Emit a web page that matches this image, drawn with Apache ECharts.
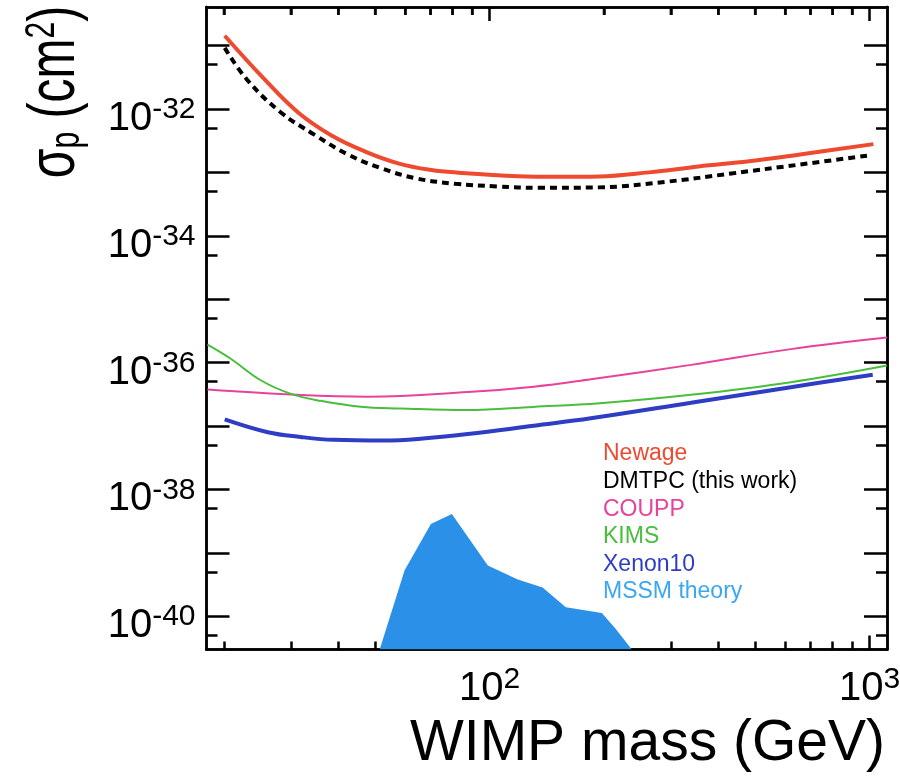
<!DOCTYPE html>
<html><head><meta charset="utf-8">
<script src="https://cdn.jsdelivr.net/npm/echarts@6/dist/echarts.min.js"></script>
<style>html,body{margin:0;padding:0;background:#fff}#c{width:900px;height:780px}</style>
</head><body><div id="c"></div>
<script>
// ---- data (WIMP mass in GeV, cross-section in cm^2) ----
const newageMass  = [20.1, 25.6, 31.3, 38.2, 47.1, 57.5, 70.3, 82.8, 119, 152, 194, 263, 355, 482, 650, 1024];
const newageSigma = [1.43e-31, 2.92e-32, 8.9e-33, 3.9e-33, 2.13e-33, 1.39e-33, 1.09e-33, 9.9e-34, 8.7e-34, 8.5e-34, 8.6e-34, 1.0e-33, 1.24e-33, 1.5e-33, 1.9e-33, 2.79e-33];

const dmtpcMass  = [20.1, 23.0, 28.2, 34.7, 42.5, 51.9, 63.8, 81.4, 105, 135, 194, 291, 433, 650, 1012];
const dmtpcSigma = [9.2e-32, 2.91e-32, 8.9e-33, 3.9e-33, 1.9e-33, 1.16e-33, 8.1e-34, 6.6e-34, 6.0e-34, 5.7e-34, 5.8e-34, 7.1e-34, 9.6e-34, 1.32e-33, 1.87e-33];

const couppMass  = [18.1, 31.9, 47.8, 87.7, 130.8, 184.8, 339, 621, 1112];
const couppSigma = [3.75e-37, 3.08e-37, 2.9e-37, 3.43e-37, 4.17e-37, 5.46e-37, 9.2e-37, 1.63e-36, 2.48e-36];

const kimsMass  = [18.1, 20.8, 25.0, 29.9, 35.9, 45.8, 58.3, 87.5, 130.5, 195, 339, 621, 1112];
const kimsSigma = [1.92e-36, 1.16e-36, 5.26e-37, 3.24e-37, 2.49e-37, 2.01e-37, 1.89e-37, 1.78e-37, 2.0e-37, 2.28e-37, 3.1e-37, 4.9e-37, 8.97e-37];

const xenonMass  = [20.1, 26.1, 31.8, 38.9, 52.7, 65.8, 87.7, 130.8, 184.8, 339, 621, 1020];
const xenonSigma = [1.27e-37, 7.97e-38, 6.71e-38, 6.04e-38, 5.89e-38, 6.28e-38, 7.45e-38, 1.01e-37, 1.32e-37, 2.32e-37, 4.09e-37, 6.44e-37];

const mssmMass  = [51.4, 59.8, 70.1, 79.6, 99.0, 118.7, 138, 158.8, 197.5, 215, 236.9];
const mssmSigma = [2.98e-41, 5.3e-40, 2.84e-39, 4.09e-39, 6.27e-40, 3.78e-40, 2.84e-40, 1.38e-40, 1.12e-40, 6.27e-41, 2.98e-41];

const seriesNames = ['Newage', 'DMTPC (this work)', 'COUPP', 'KIMS', 'Xenon10', 'MSSM theory'];

// axis ticks and labels
const xMajorTicks = [100, 1000];
const xMinorTicks = [20, 30, 40, 50, 60, 70, 80, 90, 200, 300, 400, 500, 600, 700, 800, 900];
const xTickLabels = [100, 1000];
const yMajorTicks = [1e-31, 1e-32, 1e-33, 1e-34, 1e-35, 1e-36, 1e-37, 1e-38, 1e-39, 1e-40];
const yMinorTicks = [5e-32, 5e-33, 5e-34, 5e-35, 5e-36, 5e-37, 5e-38, 5e-39, 5e-40, 5e-41];
const yTickLabels = [1e-32, 1e-34, 1e-36, 1e-38, 1e-40];

const xRange = [18.0, 1112];
const yRange = [2.98e-41, 4.06e-31];

const FONT = '"Liberation Sans", Arial, Helvetica, sans-serif';
const COLORS = {
  newage: '#ee4a30', dmtpc: '#000000', coupp: '#e8429a', kims: '#48be3c', xenon: '#2e3dc4', mssm: '#2b90e8', mssmText: '#3aa7f2'
};

function zip(a, b) { return a.map((v, i) => [v, b[i]]); }
const exp10 = v => Math.log10(v);
const labelRich = {
  b: { fontSize: 40, fontFamily: FONT, color: '#000', lineHeight: 48 },
  s: { fontSize: 30, fontFamily: FONT, color: '#000', lineHeight: 30, verticalAlign: 'top' }
};
const powLabel = e => '{b|10}{s|' + Math.round(e) + '}';
const tickStyle = { color: '#000', width: 2.5 };
const frameLine = { show: true, onZero: false, lineStyle: { color: '#000', width: 2.5 } };
const hiddenLine = { show: false, onZero: false };

// Data are drawn on hidden log axes; the frame, ticks and labels are drawn on
// matching axes whose unit is one decade (log10 of the same range).
const xMinExp = exp10(xRange[0]), xMaxExp = exp10(xRange[1]);
const yMinExp = exp10(yRange[0]), yMaxExp = exp10(yRange[1]);
function xDecoDef(pos, major, withLabel) {
  return {
    type: 'value', min: xMinExp, max: xMaxExp, position: pos, offset: 0,
    axisLine: frameLine,
    axisTick: { show: true, inside: true, length: major ? 14 : 8,
      customValues: (major ? xMajorTicks : xMinorTicks).map(exp10), lineStyle: tickStyle },
    axisLabel: withLabel ? { show: true, customValues: xTickLabels.map(v => Math.round(exp10(v))),
      formatter: powLabel, rich: labelRich, margin: 15 } : { show: false },
    splitLine: { show: false }, minorTick: { show: false }
  };
}
function yDecoDef(pos, major, withLabel) {
  return {
    type: 'value', min: yMinExp, max: yMaxExp, position: pos, offset: 0,
    axisLine: frameLine,
    axisTick: { show: true, inside: true, length: major ? 23 : 11,
      customValues: (major ? yMajorTicks : yMinorTicks).map(exp10), lineStyle: tickStyle },
    axisLabel: withLabel ? { show: true, customValues: yTickLabels.map(v => Math.round(exp10(v))),
      formatter: powLabel, rich: labelRich, margin: 11, padding: [20, 0, 0, 0] } : { show: false },
    splitLine: { show: false }, minorTick: { show: false }
  };
}

const chart = echarts.init(document.getElementById('c'), null, { renderer: 'canvas' });
chart.setOption({
  animation: false,
  backgroundColor: '#fff',
  grid: { left: 206.5, right: 13, top: 7, bottom: 130.5, containLabel: false, outerBoundsMode: 'none' },
  xAxis: [
    { type: 'log', logBase: 10, min: xRange[0], max: xRange[1], show: false, position: 'bottom', axisLine: hiddenLine },
    xDecoDef('bottom', true, true), xDecoDef('bottom', false, false), xDecoDef('top', true, false), xDecoDef('top', false, false)
  ],
  yAxis: [
    { type: 'log', logBase: 10, min: yRange[0], max: yRange[1], show: false, position: 'left', axisLine: hiddenLine },
    yDecoDef('left', true, true), yDecoDef('left', false, false), yDecoDef('right', true, false), yDecoDef('right', false, false)
  ],
  legend: {
    orient: 'vertical', left: 593, top: 437.5, icon: 'none', itemWidth: 0, itemHeight: 14, itemGap: 4.6,
    selectedMode: false,
    textStyle: { fontSize: 23, fontFamily: FONT, lineHeight: 23 },
    data: [
      { name: seriesNames[0], textStyle: { color: COLORS.newage } },
      { name: seriesNames[1], textStyle: { color: COLORS.dmtpc } },
      { name: seriesNames[2], textStyle: { color: COLORS.coupp } },
      { name: seriesNames[3], textStyle: { color: COLORS.kims } },
      { name: seriesNames[4], textStyle: { color: COLORS.xenon } },
      { name: seriesNames[5], textStyle: { color: COLORS.mssmText } }
    ]
  },
  series: [
    { name: seriesNames[5], type: 'line', data: zip(mssmMass, mssmSigma), showSymbol: false, symbol: 'none',
      lineStyle: { width: 0, color: COLORS.mssm }, itemStyle: { color: COLORS.mssm },
      areaStyle: { color: COLORS.mssm, opacity: 1, origin: 'start' }, z: 1 },
    { name: seriesNames[2], type: 'line', data: zip(couppMass, couppSigma), showSymbol: false, symbol: 'none', smooth: 0.4,
      lineStyle: { width: 2, color: COLORS.coupp }, itemStyle: { color: COLORS.coupp }, z: 2 },
    { name: seriesNames[3], type: 'line', data: zip(kimsMass, kimsSigma), showSymbol: false, symbol: 'none', smooth: 0.4,
      lineStyle: { width: 2, color: COLORS.kims }, itemStyle: { color: COLORS.kims }, z: 2 },
    { name: seriesNames[4], type: 'line', data: zip(xenonMass, xenonSigma), showSymbol: false, symbol: 'none', smooth: 0.4,
      lineStyle: { width: 4, color: COLORS.xenon }, itemStyle: { color: COLORS.xenon }, z: 3 },
    { name: seriesNames[1], type: 'line', data: zip(dmtpcMass, dmtpcSigma), showSymbol: false, symbol: 'none', smooth: 0.4,
      lineStyle: { width: 4, color: COLORS.dmtpc, type: [7, 5], cap: 'butt' }, itemStyle: { color: COLORS.dmtpc }, z: 3 },
    { name: seriesNames[0], type: 'line', data: zip(newageMass, newageSigma), showSymbol: false, symbol: 'none', smooth: 0.4,
      lineStyle: { width: 4, color: COLORS.newage }, itemStyle: { color: COLORS.newage }, z: 4 },
    // short inward ticks along the top edge, placed through the same log scale
    { name: 'top ticks', type: 'scatter', data: xMinorTicks.map(v => [v, yRange[1]]), symbol: 'rect',
      symbolSize: [2.5, 8], symbolOffset: [0, 4], itemStyle: { color: '#000' }, silent: true, clip: false,
      emphasis: { disabled: true }, z: 5 }
  ],
  graphic: [
    { type: 'text', x: 55, y: 92, rotation: Math.PI / 2, scaleY: 1.4,
      style: { text: '{a|σ}{sub|p}{a| (cm}{sup|2}{a|)}', align: 'center', verticalAlign: 'middle', fill: '#000',
        rich: {
          a: { fontSize: 48, fontFamily: FONT, lineHeight: 48 },
          sub: { fontSize: 30, fontFamily: FONT, lineHeight: 30, verticalAlign: 'bottom' },
          sup: { fontSize: 30, fontFamily: FONT, lineHeight: 30, verticalAlign: 'top' }
        } } },
    { type: 'text', x: 885, y: 744,
      style: { text: 'WIMP mass (GeV)', font: '57px ' + FONT, align: 'right', verticalAlign: 'middle', fill: '#000' } }
  ]
});
</script></body></html>
